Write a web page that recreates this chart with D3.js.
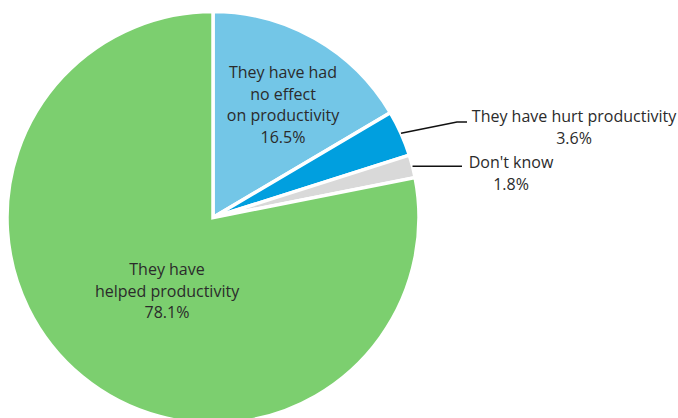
<!DOCTYPE html>
<html>
<head>
<meta charset="utf-8">
<script src="https://cdn.jsdelivr.net/npm/d3@7"></script>
<style>
  html, body { margin: 0; padding: 0; background: #fff; }
  svg { display: block; }
  text { font-family: "Open Sans", "Noto Sans", sans-serif; font-size: 16px; fill: #2b2b2b; }
</style>
</head>
<body>
<svg id="chart" width="678" height="418"></svg>
<script>
// Survey answers, clockwise from 12 o'clock
const categories = [
  "They have had no effect on productivity",
  "They have hurt productivity",
  "Don't know",
  "They have helped productivity"
];
const values = [16.5, 3.6, 1.8, 78.1];
const colors = ["#73c6e7", "#009fdf", "#d9d9d9", "#7ccf6f"];

// Label lines as drawn for each slice
const labelLines = [
  ["They have had", "no effect", "on productivity", "16.5%"],
  ["They have hurt productivity", "3.6%"],
  ["Don't know", "1.8%"],
  ["They have", "helped productivity", "78.1%"]
];

const width = 678, height = 418;
const cx = 213, cy = 217.5, radius = 206;
const lineH = 21.7;

const svg = d3.select("#chart");
const g = svg.append("g").attr("transform", `translate(${cx},${cy})`);

const data = categories.map((c, i) => ({ name: c, value: values[i], color: colors[i], lines: labelLines[i] }));

const pie = d3.pie().sort(null).value(d => d.value);
const arcs = pie(data);
const arc = d3.arc().innerRadius(0).outerRadius(radius);

g.selectAll("path.slice")
  .data(arcs)
  .join("path")
  .attr("class", "slice")
  .attr("d", arc)
  .attr("fill", d => d.data.color)
  .attr("stroke", "#fff")
  .attr("stroke-width", 3.5)
  .attr("stroke-linejoin", "miter");

// Inside labels: big slices
const insideSpec = [
  { idx: 0, x: 70, firstBaseline: -139.5 },
  { idx: 3, x: -46, firstBaseline: 57.5 }
];
insideSpec.forEach(s => {
  const a = arcs[s.idx];
  const t = g.append("text").attr("text-anchor", "middle");
  a.data.lines.forEach((ln, k) => {
    t.append("tspan").attr("x", s.x).attr("y", s.firstBaseline + k * lineH).text(ln);
  });
});

// Outside labels with leader lines: small slices
const outsideSpec = [
  { idx: 1, elbow: [244, -95.5], end: [254, -95.5], textX: 361, firstBaseline: -95.5 },
  { idx: 2, elbow: null, end: [249, -50], textX: 298, firstBaseline: -49.5 }
];
outsideSpec.forEach(s => {
  const a = arcs[s.idx];
  const mid = (a.startAngle + a.endAngle) / 2;
  const r0 = radius;
  const p0 = [r0 * Math.sin(mid), -r0 * Math.cos(mid)];
  const pts = s.elbow ? [p0, s.elbow, s.end] : [p0, [s.end[0], p0[1]]];
  g.append("path")
    .attr("d", d3.line()(pts))
    .attr("fill", "none")
    .attr("stroke", "#111")
    .attr("stroke-width", 1.6);
  const t = g.append("text").attr("text-anchor", "middle");
  a.data.lines.forEach((ln, k) => {
    t.append("tspan").attr("x", s.textX).attr("y", s.firstBaseline + k * lineH).text(ln);
  });
});
</script>
</body>
</html>
